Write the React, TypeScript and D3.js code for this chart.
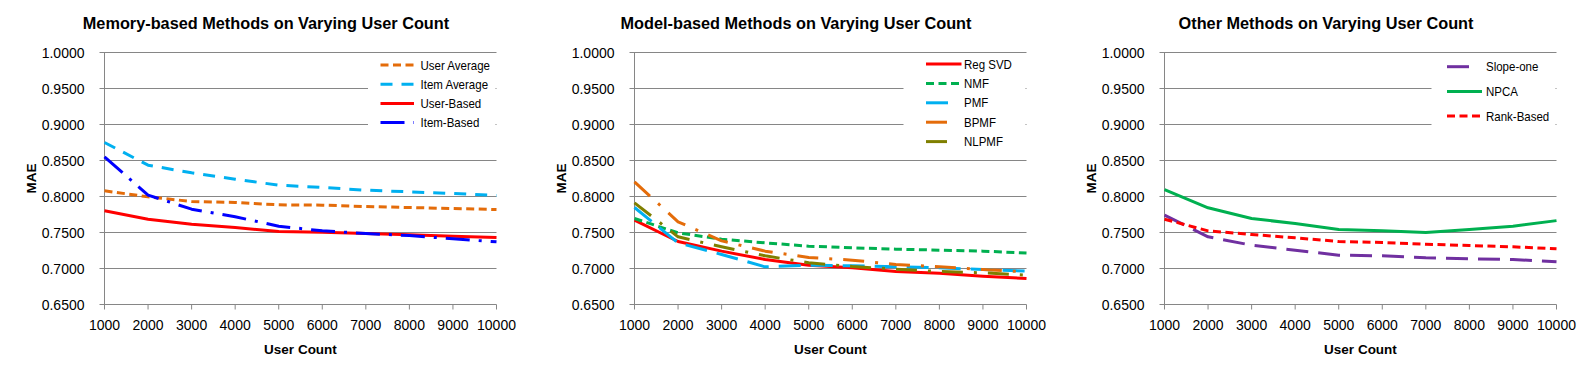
import React from "react";
import { scalePoint, scaleLinear, line, format, range } from "d3";

// x categories and y ticks
const userCounts = [1000, 2000, 3000, 4000, 5000, 6000, 7000, 8000, 9000, 10000];
const maeTicks = [0.65, 0.7, 0.75, 0.8, 0.85, 0.9, 0.95, 1.0];

// memory-based
const userAverage = [0.8079, 0.7995, 0.7931, 0.7917, 0.7884, 0.788, 0.7861, 0.7847, 0.7833, 0.7819];
const itemAverage = [0.875, 0.8435, 0.8329, 0.8241, 0.8157, 0.8125, 0.8088, 0.8065, 0.8042, 0.8014];
const userBased = [0.7801, 0.7685, 0.7616, 0.7569, 0.7514, 0.7505, 0.7486, 0.7468, 0.7449, 0.7431];
const itemBased = [0.855, 0.802, 0.7824, 0.7718, 0.7588, 0.7523, 0.7486, 0.7458, 0.7412, 0.737];

// model-based
const regSVD = [0.7671, 0.7375, 0.7241, 0.7125, 0.7046, 0.7009, 0.6958, 0.6935, 0.6894, 0.686];
const nmf = [0.7694, 0.7495, 0.7407, 0.7356, 0.731, 0.7287, 0.7269, 0.7255, 0.7241, 0.7215];
const pmf = [0.7847, 0.7356, 0.7195, 0.7023, 0.7046, 0.7037, 0.7023, 0.7009, 0.6986, 0.6963];
const bpmf = [0.8204, 0.7648, 0.7384, 0.7241, 0.7153, 0.7116, 0.7056, 0.7023, 0.6986, 0.6953];
const nlpmf = [0.7912, 0.744, 0.7301, 0.7176, 0.7079, 0.7028, 0.6991, 0.6958, 0.694, 0.6907];

// other methods
const slopeOne = [0.7741, 0.744, 0.7324, 0.7255, 0.7185, 0.7176, 0.7148, 0.7134, 0.7125, 0.7095];
const npca = [0.8097, 0.7843, 0.7694, 0.7625, 0.7542, 0.7523, 0.75, 0.7542, 0.7588, 0.7665];
const rankBased = [0.7685, 0.7523, 0.7472, 0.7426, 0.7375, 0.7361, 0.7338, 0.7319, 0.7301, 0.7275];

const FONT = "'Liberation Sans', Arial, sans-serif";

const DASH = {
  solid: undefined,
  short: "8,4.5",
  dash: "12,9",
  longDash: "22,10",
  longDashDot: "24,9,3,9",
  longDashDot2: "21,11,3,11",
};

const panels = [
  {
    title: "Memory-based Methods on Varying User Count",
    legend: { x: -116, len: 33.5, tx: -76, y0: 65, step: 19.2, boxX: -128.5, boxH: 78 },
    series: [
      { name: "User Average", values: userAverage, color: "#E46C0A", dash: DASH.short },
      { name: "Item Average", values: itemAverage, color: "#00B0F0", dash: DASH.dash },
      { name: "User-Based", values: userBased, color: "#FF0000", dash: DASH.solid },
      { name: "Item-Based", values: itemBased, color: "#0000FF", dash: DASH.longDashDot },
    ],
  },
  {
    title: "Model-based Methods on Varying User Count",
    legend: { x: -100.5, len: 35.5, tx: -62.5, y0: 64, step: 19.4, boxX: -123, boxH: 96 },
    series: [
      { name: "Reg SVD", values: regSVD, color: "#FF0000", dash: DASH.solid },
      { name: "NMF", values: nmf, color: "#00B050", dash: DASH.short },
      { name: "PMF", values: pmf, color: "#00B0F0", dash: DASH.longDash, legendLen: 23 },
      { name: "BPMF", values: bpmf, color: "#E46C0A", dash: DASH.longDashDot2, legendLen: 23 },
      { name: "NLPMF", values: nlpmf, color: "#7F7F00", dash: DASH.longDashDot2, legendLen: 23 },
    ],
  },
  {
    title: "Other Methods on Varying User Count",
    legend: { x: -109.5, len: 35, tx: -70.5, y0: 66.7, step: 24.7, boxX: -125, boxH: 72 },
    series: [
      { name: "Slope-one", values: slopeOne, color: "#7030A0", dash: DASH.longDash, legendLen: 22.5 },
      { name: "NPCA", values: npca, color: "#00B050", dash: DASH.solid },
      { name: "Rank-Based", values: rankBased, color: "#FF0000", dash: DASH.short },
    ],
  },
];

const plotLeft = 104.5,
  plotRight = 496.5,
  plotTop = 52.5,
  plotBottom = 304.5;

const x = scalePoint<number>().domain(userCounts).range([plotLeft, plotRight]).padding(0);
const y = scaleLinear().domain([0.65, 1.0]).range([plotBottom, plotTop]);
const fmt = format(".4f");

const lineGen = line<number>()
  .x((_, i) => x(userCounts[i]) as number)
  .y(d => y(d));

function Panel({ panel, offset }) {
  const lg = panel.legend;
  const grey = "#868686";
  return (
    <g transform={`translate(${offset},0)`}>
      <text
        x={266}
        y={28.5}
        textAnchor="middle"
        fontFamily={FONT}
        fontWeight="bold"
        fontSize={16.3}
      >
        {panel.title}
      </text>

      {maeTicks.map(t => (
        <g key={t}>
          <line x1={plotLeft - 5} x2={plotRight} y1={y(t)} y2={y(t)} stroke={grey} strokeWidth={1} />
          <text
            x={plotLeft - 20}
            y={y(t)}
            dy="0.36em"
            textAnchor="end"
            fontFamily={FONT}
            fontSize={14}
          >
            {fmt(t)}
          </text>
        </g>
      ))}

      <line x1={plotLeft} x2={plotLeft} y1={plotTop} y2={plotBottom} stroke={grey} strokeWidth={1} />
      {userCounts.map(c => (
        <g key={c}>
          <line x1={x(c)} x2={x(c)} y1={plotBottom} y2={plotBottom + 5} stroke={grey} strokeWidth={1} />
          <text x={x(c)} y={329.5} textAnchor="middle" fontFamily={FONT} fontSize={14}>
            {c}
          </text>
        </g>
      ))}

      <text
        x={(plotLeft + plotRight) / 2}
        y={354}
        textAnchor="middle"
        fontFamily={FONT}
        fontWeight="bold"
        fontSize={13.5}
      >
        User Count
      </text>
      <text
        transform={`translate(36,${(plotTop + plotBottom) / 2}) rotate(-90)`}
        textAnchor="middle"
        fontFamily={FONT}
        fontWeight="bold"
        fontSize={13.5}
      >
        MAE
      </text>

      {panel.series.map(s => (
        <path
          key={s.name}
          d={lineGen(s.values) as string}
          fill="none"
          stroke={s.color}
          strokeWidth={3}
          strokeDasharray={s.dash}
          strokeLinejoin="round"
        />
      ))}

      {/* legend */}
      <rect
        x={plotRight + lg.boxX}
        y={lg.y0 - 10}
        width={-lg.boxX - 1}
        height={lg.boxH}
        fill="#fff"
      />
      {panel.series.map((s, i) => {
        const ly = lg.y0 + i * lg.step;
        return (
          <g key={s.name}>
            <line
              x1={plotRight + lg.x}
              x2={plotRight + lg.x + (s.legendLen ?? lg.len)}
              y1={ly}
              y2={ly}
              stroke={s.color}
              strokeWidth={3}
              strokeDasharray={s.dash}
            />
            <text
              transform={`translate(${plotRight + lg.tx},${ly}) scale(0.885,1)`}
              dy="0.36em"
              fontFamily={FONT}
              fontSize={13}
            >
              {s.name}
            </text>
          </g>
        );
      })}
    </g>
  );
}

export default function App() {
  return (
    <svg
      width={1592}
      height={376}
      style={{ position: "absolute", left: 0, top: 0, background: "#fff" }}
    >
      {range(panels.length).map(i => (
        <Panel key={i} panel={panels[i]} offset={i * 530} />
      ))}
    </svg>
  );
}
